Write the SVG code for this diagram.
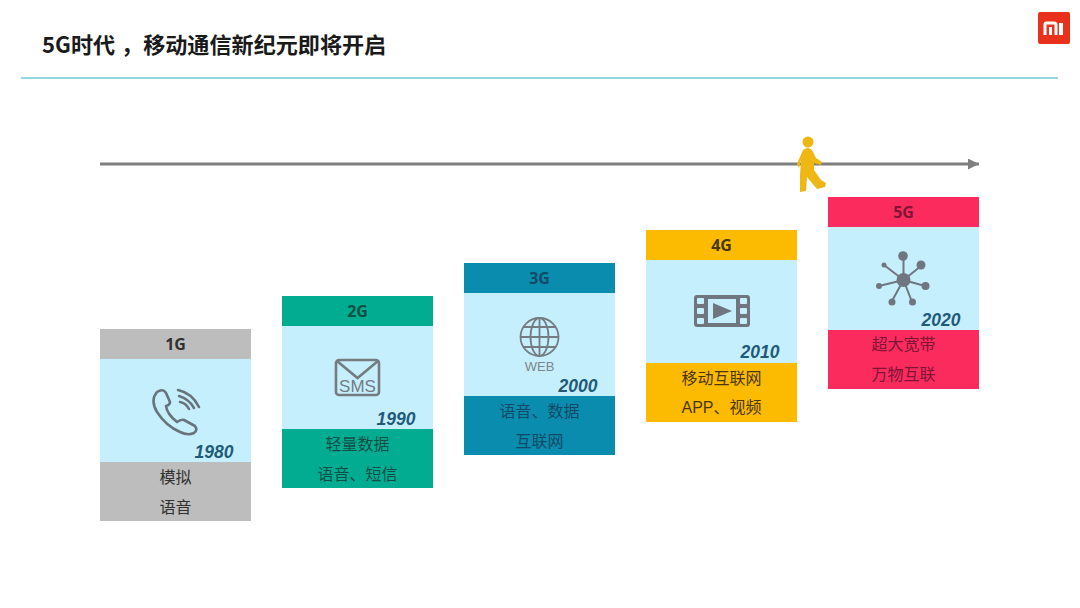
<svg xmlns="http://www.w3.org/2000/svg" width="1080" height="608" viewBox="0 0 1080 608">
<style>
text{font-family:"Liberation Sans","Noto Sans CJK SC",sans-serif;text-anchor:middle}
.h{font-size:16px;font-weight:700;font-family:"Noto Sans","Liberation Sans",sans-serif}
.b{font-size:16px}
.y{font-size:17.5px;font-weight:700;font-style:italic;fill:#1f5a78;font-family:"Liberation Sans",sans-serif}
.mid{fill:#c6effd}
.ic{fill:none;stroke:#68747c;stroke-width:2.6;stroke-linecap:round;stroke-linejoin:round}
.f{fill:#6f7680}
</style>
<defs>
<marker id="arr" markerUnits="userSpaceOnUse" markerWidth="12" markerHeight="12" refX="11" refY="5.500" orient="auto"><path d="M0 0L11 5.500L0 11Z" fill="#7f7f7f"/></marker>
</defs>
<rect width="1080" height="608" fill="#fff"/>
<text id="title" x="42" y="53" style="text-anchor:start;font-size:22.1px;font-weight:700;fill:#1a1a1a;font-family:'Noto Sans CJK SC','Liberation Sans',sans-serif">5G时代<tspan dx="6">，移动通信新纪元即将开启</tspan></text>
<line x1="21" y1="78" x2="1058" y2="78" stroke="#6fcbd6" stroke-width="1.5"/>
<g id="logo">
<rect x="1038" y="12" width="32" height="32" rx="2" fill="#e8321c"/>
<path d="M1045 35V24.500Q1045 23 1046.500 23H1054Q1056 23 1056 25V35M1050.500 27V35" fill="none" stroke="#fff" stroke-width="3"/>
<rect x="1059" y="23" width="4" height="12" fill="#fff"/>
</g>
<g id="connectors">
<line x1="100" y1="164" x2="979" y2="164" stroke="#7f7f7f" stroke-width="3" marker-end="url(#arr)"/>
</g>
<g id="walker" fill="#eeb714">
<circle cx="808" cy="142" r="5.500"/>
<path d="M803 150Q808 146 812 150L816 158L822 162L821 165L814 163L814 170L821 180L826 183L825 187L817 189L807 177L806 191L800 192L800 175L801 160L799 168L797 164Z"/>
</g>
<g id="card-1g" fill="#303030">
<rect x="100" y="329" width="151" height="30" fill="#bdbdbd"/>
<rect class="mid" x="100" y="359" width="151" height="103"/>
<rect x="100" y="462" width="151" height="59" fill="#bdbdbd"/>
<text class="h" x="175.500" y="350">1G</text>
<path class="ic" d="M157 392Q163 388 166 393L170 402Q170 405 166 406Q167 414 177 422Q181 419 184 420L195 426Q198 430 194 433Q188 436 180 432Q166 426 157 412Q150 400 157 392Z"/>
<path class="ic" d="M178 390Q192 393 199 407M179 396Q189 399 194 408M180 402Q186 403 189 409"/>
<text class="y" x="214" y="458">1980</text>
<text class="b" x="175.500" y="483">模拟</text>
<text class="b" x="175.500" y="513">语音</text>
</g>
<g id="card-2g" fill="#0e4f48">
<rect x="282" y="296" width="151" height="30" fill="#02ac90"/>
<rect class="mid" x="282" y="326" width="151" height="103"/>
<rect x="282" y="429" width="151" height="59" fill="#02ac90"/>
<text class="h" x="357.500" y="317">2G</text>
<rect x="336" y="360" width="43" height="35" rx="3" fill="none" stroke="#747c82" stroke-width="2.600"/>
<path d="M337 361L357.500 378L378 361" fill="none" stroke="#747c82" stroke-width="2.600"/>
<text x="357.500" y="392" style="font-size:17px;fill:#747c82">SMS</text>
<text class="y" x="396" y="425">1990</text>
<text class="b" x="357.500" y="450">轻量数据</text>
<text class="b" x="357.500" y="480">语音、短信</text>
</g>
<g id="card-3g" fill="#0f4a66">
<rect x="464" y="263" width="151" height="30" fill="#0a8cae"/>
<rect class="mid" x="464" y="293" width="151" height="103"/>
<rect x="464" y="396" width="151" height="59" fill="#0a8cae"/>
<text class="h" x="539.500" y="284">3G</text>
<g fill="none" stroke="#747c82" stroke-width="1.800">
<circle cx="539.500" cy="337" r="19"/>
<ellipse cx="539.500" cy="337" rx="9" ry="19"/>
<path d="M539.500 318V356M520.500 337H558.500M523.500 327H555.500M523.500 347H555.500"/>
</g>
<text x="539.500" y="371" style="font-size:13px;fill:#7c858b">WEB</text>
<text class="y" x="578" y="392">2000</text>
<text class="b" x="539.500" y="417">语音、数据</text>
<text class="b" x="539.500" y="447">互联网</text>
</g>
<g id="card-4g" fill="#4a3608">
<rect x="646" y="230" width="151" height="30" fill="#fdbb00"/>
<rect class="mid" x="646" y="260" width="151" height="103"/>
<rect x="646" y="363" width="151" height="59" fill="#fdbb00"/>
<text class="h" x="721.500" y="251">4G</text>
<rect x="694" y="295" width="56" height="32" rx="3" class="f"/>
<rect x="708" y="299" width="28" height="24" fill="#c6effd"/>
<g fill="#c6effd"><rect x="697" y="298" width="7" height="6" rx="1"/><rect x="697" y="308" width="7" height="6" rx="1"/><rect x="697" y="318" width="7" height="6" rx="1"/><rect x="740" y="298" width="7" height="6" rx="1"/><rect x="740" y="308" width="7" height="6" rx="1"/><rect x="740" y="318" width="7" height="6" rx="1"/></g>
<path class="f" d="M713 303L732 311L713 319Z"/>
<text class="y" x="760" y="358">2010</text>
<text class="b" x="721.500" y="384">移动互联网</text>
<text class="b" x="721.500" y="413">APP、视频</text>
</g>
<g id="card-5g" fill="#7f1535">
<rect x="828" y="197" width="151" height="30" fill="#fb2b5e"/>
<rect class="mid" x="828" y="227" width="151" height="103"/>
<rect x="828" y="330" width="151" height="59" fill="#fb2b5e"/>
<text class="h" x="903.500" y="218">5G</text>
<path d="M903.500 280V257M903.500 280L921 266M903.500 280L884 265M903.500 280L925 286M903.500 280L879 286M903.500 280L892 301M903.500 280L912 302" stroke="#6f7680" stroke-width="2" fill="none"/>
<g class="f"><circle cx="903.500" cy="280" r="7"/><circle cx="903" cy="256" r="4.800"/><circle cx="921" cy="265" r="4.500"/><circle cx="884" cy="265" r="2.500"/><circle cx="925.500" cy="286" r="4"/><circle cx="879" cy="286" r="3"/><circle cx="892" cy="302" r="3.500"/><circle cx="912.500" cy="302" r="3.500"/></g>
<text class="y" x="941" y="326">2020</text>
<text class="b" x="903.500" y="350">超大宽带</text>
<text class="b" x="903.500" y="380">万物互联</text>
</g>
</svg>
